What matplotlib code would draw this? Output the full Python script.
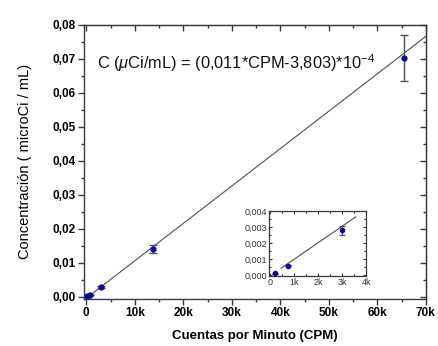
import numpy as np
import matplotlib
matplotlib.use("Agg")
import matplotlib.pyplot as plt
from matplotlib.ticker import MultipleLocator, FuncFormatter

plt.rcParams['font.family'] = ['Liberation Sans', 'DejaVu Sans']
plt.rcParams['mathtext.fontset'] = 'custom'
plt.rcParams['mathtext.rm'] = 'Liberation Sans'
plt.rcParams['mathtext.it'] = 'Liberation Sans:italic'

# calibration standards: counts per minute vs activity concentration
cpm = [200, 750, 3000, 13800, 65400]
conc = [0.00012, 0.0006, 0.0029, 0.0141, 0.0703]
conc_err = [0.00004, 0.00006, 0.0003, 0.0012, 0.0067]

# linear fit C = (0.011*CPM - 3.803)*1e-4
fit_slope = 0.011e-4
fit_intercept = -3.803e-4

# inset: low-activity standards and its own fit line
inset_cpm = [200, 750, 3000]
inset_conc = [0.00012, 0.0006, 0.0028]
inset_err = [0.00002, 0.00005, 0.0003]
inset_slope = 1.03e-6
inset_intercept = -4e-5
inset_fit_range = [470, 3570]

label_eq = r'C ($\mu$Ci/mL) = (0,011*CPM-3,803)*10$^{-4}$'
xlabel = 'Cuentas por Minuto (CPM)'
ylabel = 'Concentración ( microCi / mL)'

DOT = '#0a0a9a'
GREY = '#3a3a3a'


def kfmt(v, pos):
    return '0' if abs(v) < 1e-9 else '%dk' % round(v / 1000)


def comma_fmt(nd):
    return FuncFormatter(lambda v, pos: ('%.*f' % (nd, v)).replace('.', ','))


fig = plt.figure(figsize=(4.39, 3.46), dpi=100)
ax = fig.add_axes([0.191, 0.136, 0.779, 0.792])

xlim = (-500, 70000)
xs = np.array(xlim, dtype=float)
ax.plot(xs, fit_slope * xs + fit_intercept, color='#505050', lw=0.8, zorder=2)
ax.errorbar(cpm, conc, yerr=conc_err, fmt='o', ms=3.5, color=DOT,
            ecolor='#505050', elinewidth=1.0, capsize=3, capthick=1.0, zorder=3)

ax.set_xlim(*xlim)
ax.set_ylim(-0.0006, 0.08)
ax.xaxis.set_major_locator(MultipleLocator(10000))
ax.xaxis.set_minor_locator(MultipleLocator(5000))
ax.yaxis.set_major_locator(MultipleLocator(0.01))
ax.yaxis.set_minor_locator(MultipleLocator(0.005))
ax.xaxis.set_major_formatter(FuncFormatter(kfmt))
ax.yaxis.set_major_formatter(comma_fmt(2))
ax.tick_params(which='major', direction='out', length=4, width=1,
               labelsize=8.5, color=GREY, pad=2)
ax.tick_params(which='minor', direction='out', length=2.5, width=1, color=GREY)
for lab in ax.get_xticklabels() + ax.get_yticklabels():
    lab.set_fontweight('bold')
for sp in ax.spines.values():
    sp.set_color(GREY)
    sp.set_linewidth(1.0)

# mirrored inward ticks on top and right
top = ax.secondary_xaxis('top')
top.xaxis.set_major_locator(MultipleLocator(10000))
top.xaxis.set_minor_locator(MultipleLocator(5000))
top.tick_params(which='both', direction='in', labeltop=False, color=GREY, width=1)
top.tick_params(which='major', length=4)
top.tick_params(which='minor', length=2.5)
right = ax.secondary_yaxis('right')
right.yaxis.set_major_locator(MultipleLocator(0.01))
right.yaxis.set_minor_locator(MultipleLocator(0.005))
right.tick_params(which='both', direction='in', labelright=False, color=GREY, width=1)
right.tick_params(which='major', length=4)
right.tick_params(which='minor', length=2.5)

ax.set_xlabel(xlabel, fontsize=9.5, fontweight='bold')
ax.set_ylabel(ylabel, fontsize=10.5)
ax.xaxis.set_label_coords(0.5, -0.112)
ax.yaxis.set_label_coords(-0.152, 0.5)

ax.text(0.038, 0.861, label_eq, transform=ax.transAxes, fontsize=11.8,
        va='center', ha='left', color='#111111')

# inset with the low-count region
ins = fig.add_axes([0.613, 0.202, 0.221, 0.188])
ifx = np.array(inset_fit_range, dtype=float)
ins.plot(ifx, inset_slope * ifx + inset_intercept, color='#505050', lw=0.8, zorder=2)
ins.errorbar(inset_cpm, inset_conc, yerr=inset_err, fmt='o', ms=3, color=DOT,
             ecolor='#505050', elinewidth=0.9, capsize=2, capthick=0.9, zorder=3)
ins.set_xlim(-30, 4000)
ins.set_ylim(-0.00005, 0.004)
ins.xaxis.set_major_locator(MultipleLocator(1000))
ins.xaxis.set_minor_locator(MultipleLocator(500))
ins.yaxis.set_major_locator(MultipleLocator(0.001))
ins.yaxis.set_minor_locator(MultipleLocator(0.0005))
ins.xaxis.set_major_formatter(FuncFormatter(kfmt))
ins.yaxis.set_major_formatter(comma_fmt(3))
ins.tick_params(which='both', direction='in', top=True, right=True,
                labelsize=6.5, color=GREY, labelcolor='#333333', width=0.8, pad=1.5)
ins.tick_params(which='major', length=2.5)
ins.tick_params(which='minor', length=1.5)
for sp in ins.spines.values():
    sp.set_color(GREY)
    sp.set_linewidth(0.9)

fig.savefig('out.png', dpi=100)
